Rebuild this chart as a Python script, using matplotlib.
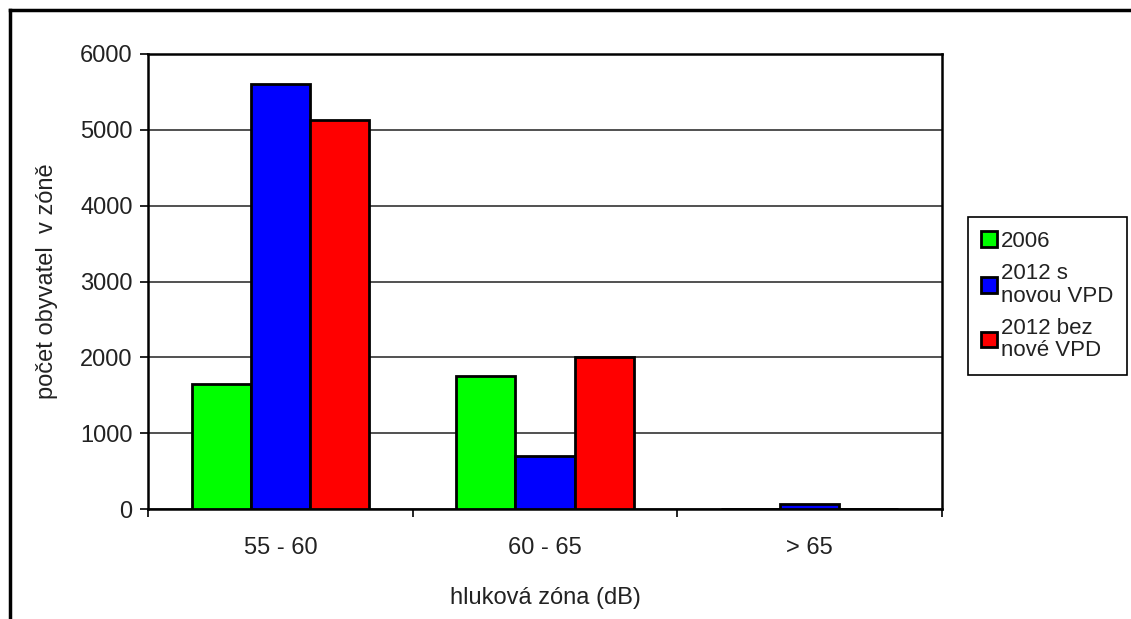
import matplotlib.pyplot as plt
import matplotlib.lines as mlines
import numpy as np

# hlukové zóny a počty obyvatel
zones = ["55 - 60", "60 - 65", "> 65"]
series_names = ["2006", "2012 s\nnovou VPD", "2012 bez\nnové VPD"]
values_2006 = [1650, 1760, 0]
values_2012_new = [5600, 700, 65]
values_2012_old = [5130, 2000, 0]
colors = ["#00ff00", "#0000ff", "#ff0000"]

plt.rcParams['font.family'] = ['Liberation Sans', 'DejaVu Sans']
FS = 17

fig = plt.figure(figsize=(11.31, 6.19), dpi=100)
ax = fig.add_axes([148 / 1131, 1 - 509 / 619, 794 / 1131, 455 / 619])

x = np.arange(len(zones))
width = 0.223
all_values = [values_2006, values_2012_new, values_2012_old]
for i in range(len(all_values)):
    ax.bar(x + (i - 1) * width, all_values[i], width, color=colors[i],
           edgecolor='black', linewidth=2, label=series_names[i], zorder=3)

ax.set_xlim(-0.5, 2.5)
ax.set_ylim(0, 6000)
ax.set_yticks(range(0, 6001, 1000))
ax.yaxis.grid(True, color='#333333', linewidth=1.2, zorder=0)

ax.set_xticks(x)
ax.set_xticklabels(zones)
ax.set_xticks([-0.5, 0.5, 1.5, 2.5], minor=True)
ax.tick_params(axis='x', which='major', length=0, pad=20, labelsize=FS, labelcolor='#222222')
ax.tick_params(axis='x', which='minor', length=6, width=1.2, direction='out')
ax.tick_params(axis='y', length=6, width=1.2, pad=5, labelsize=FS, labelcolor='#222222')

for spine in ax.spines.values():
    spine.set_linewidth(1.8)
    spine.set_color('black')

ax.set_ylabel("počet obyvatel  v zóně", fontsize=FS, color='#222222', labelpad=16)
ax.set_xlabel("hluková zóna (dB)", fontsize=FS, color='#222222', labelpad=20)

leg = fig.legend(loc='center left', bbox_to_anchor=(968 / 1131, 1 - 296 / 619),
                 fontsize=16, fancybox=False, framealpha=1, edgecolor='black',
                 handlelength=0.7, handleheight=0.7, handletextpad=0.2,
                 labelspacing=0.5, borderpad=0.6, borderaxespad=0)
leg.get_frame().set_linewidth(1.2)
for text in leg.get_texts():
    text.set_linespacing(1.1)
    text.set_color('#222222')

# rámeček vlevo a nahoře
fig.add_artist(mlines.Line2D([9.5 / 1131, 9.5 / 1131], [0, 1 - 9.5 / 619],
                             color='black', linewidth=2.5))
fig.add_artist(mlines.Line2D([9.5 / 1131, 1], [1 - 9.5 / 619, 1 - 9.5 / 619],
                             color='black', linewidth=2.5))

fig.savefig("out.png", dpi=100)
